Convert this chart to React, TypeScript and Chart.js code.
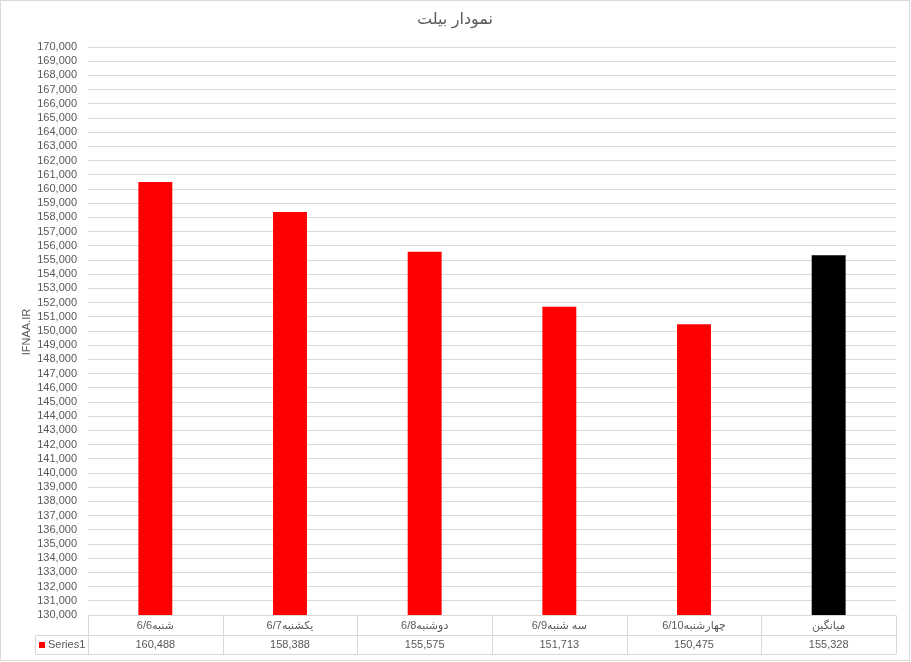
import React, { useEffect, useRef } from "react";
import { Chart, registerables } from "chart.js";

Chart.register(...registerables);

const categories = ["شنبه6/6", "یکشنبه6/7", "دوشنبه6/8", "سه شنبه6/9", "چهارشنبه6/10", "میانگین"];
const series1 = [160488, 158388, 155575, 151713, 150475, 155328];
const barColors = ["#ff0000", "#ff0000", "#ff0000", "#ff0000", "#ff0000", "#000000"];
const seriesName = "Series1";
const chartTitle = "نمودار بیلت";
const yAxisTitle = "IFNAA.IR";
const yMin = 130000;
const yMax = 170000;
const yStep = 1000;

const FONT = "'Liberation Sans', 'DejaVu Sans', sans-serif";
const TEXT = "#595959";
const LINE = "#d9d9d9";

const fmt = (v: number) => v.toLocaleString("en-US");

const decorPlugin = {
  id: "decor",
  afterDraw(chart: any) {
    const ctx: CanvasRenderingContext2D = chart.ctx;
    const { left, right, bottom } = chart.chartArea;
    const n = categories.length;
    const cw = (right - left) / n;
    const r1Top = bottom;
    const r1Bot = bottom + 20;
    const r2Bot = bottom + 39;
    const legendLeft = 35;
    const px = (v: number) => Math.round(v) + 0.5;

    ctx.save();
    ctx.strokeStyle = LINE;
    ctx.lineWidth = 1;
    ctx.beginPath();
    ctx.moveTo(px(left), px(r1Top));
    ctx.lineTo(px(right), px(r1Top));
    ctx.moveTo(px(legendLeft), px(r1Bot));
    ctx.lineTo(px(right), px(r1Bot));
    ctx.moveTo(px(legendLeft), px(r2Bot));
    ctx.lineTo(px(right), px(r2Bot));
    ctx.moveTo(px(legendLeft), px(r1Bot));
    ctx.lineTo(px(legendLeft), px(r2Bot));
    for (let i = 0; i <= n; i++) {
      const bx = left + i * cw;
      ctx.moveTo(px(bx), px(r1Top));
      ctx.lineTo(px(bx), px(r2Bot));
    }
    ctx.stroke();

    // category labels and values
    ctx.fillStyle = TEXT;
    ctx.font = `11px ${FONT}`;
    ctx.textAlign = "center";
    ctx.textBaseline = "middle";
    const xs = chart.scales.x;
    for (let i = 0; i < n; i++) {
      const cx = xs.getPixelForValue(i);
      ctx.save();
      (ctx as any).direction = "rtl";
      ctx.textAlign = "center";
      ctx.fillText(categories[i], cx, (r1Top + r1Bot) / 2 + 0.5);
      ctx.restore();
      ctx.fillText(fmt(series1[i]), cx, (r1Bot + r2Bot) / 2 + 0.5);
    }

    // legend key
    ctx.fillStyle = barColors[0];
    ctx.fillRect(39, Math.round((r1Bot + r2Bot) / 2) - 3, 6, 6);
    ctx.fillStyle = TEXT;
    ctx.textAlign = "left";
    ctx.fillText(seriesName, 48, (r1Bot + r2Bot) / 2 + 0.5);

    // title
    ctx.font = `16px ${FONT}`;
    ctx.textAlign = "center";
    ctx.fillText(chartTitle, 455, 20);

    // y axis title
    ctx.save();
    ctx.translate(27, 332);
    ctx.rotate(-Math.PI / 2);
    ctx.font = `11px ${FONT}`;
    ctx.textAlign = "center";
    ctx.fillText(yAxisTitle, 0, 0);
    ctx.restore();

    // outer border
    ctx.strokeStyle = LINE;
    ctx.strokeRect(0.5, 0.5, 909, 660);
    ctx.restore();
  },
};

export default function App() {
  const ref = useRef<HTMLCanvasElement | null>(null);

  useEffect(() => {
    if (!ref.current) return;
    const chart = new Chart(ref.current, {
      type: "bar",
      data: {
        labels: categories,
        datasets: [
          {
            label: seriesName,
            data: series1,
            backgroundColor: barColors,
            borderWidth: 0,
            categoryPercentage: 1,
            barPercentage: 0.252,
          },
        ],
      },
      options: {
        animation: false,
        responsive: false,
        maintainAspectRatio: false,
        devicePixelRatio: 1,
        layout: { padding: { top: 47, bottom: 47, left: 0, right: 15 } },
        plugins: {
          legend: { display: false },
          title: { display: false },
          tooltip: { enabled: false },
        },
        scales: {
          x: {
            display: false,
          },
          y: {
            min: yMin,
            max: yMax,
            afterFit: (scale: any) => {
              scale.width = 88;
            },
            border: { display: false },
            grid: { color: LINE, lineWidth: 1, drawTicks: false },
            ticks: {
              stepSize: yStep,
              autoSkip: false,
              padding: 11,
              color: TEXT,
              font: { family: FONT, size: 11 },
              callback: (v: any) => fmt(Number(v)),
            },
          },
        },
      },
      plugins: [decorPlugin],
    });
    return () => chart.destroy();
  }, []);

  return (
    <div style={{ position: "fixed", left: 0, top: 0, width: 911, height: 662, background: "#fff" }}>
      <canvas ref={ref} width={911} height={662} style={{ display: "block" }} />
    </div>
  );
}
